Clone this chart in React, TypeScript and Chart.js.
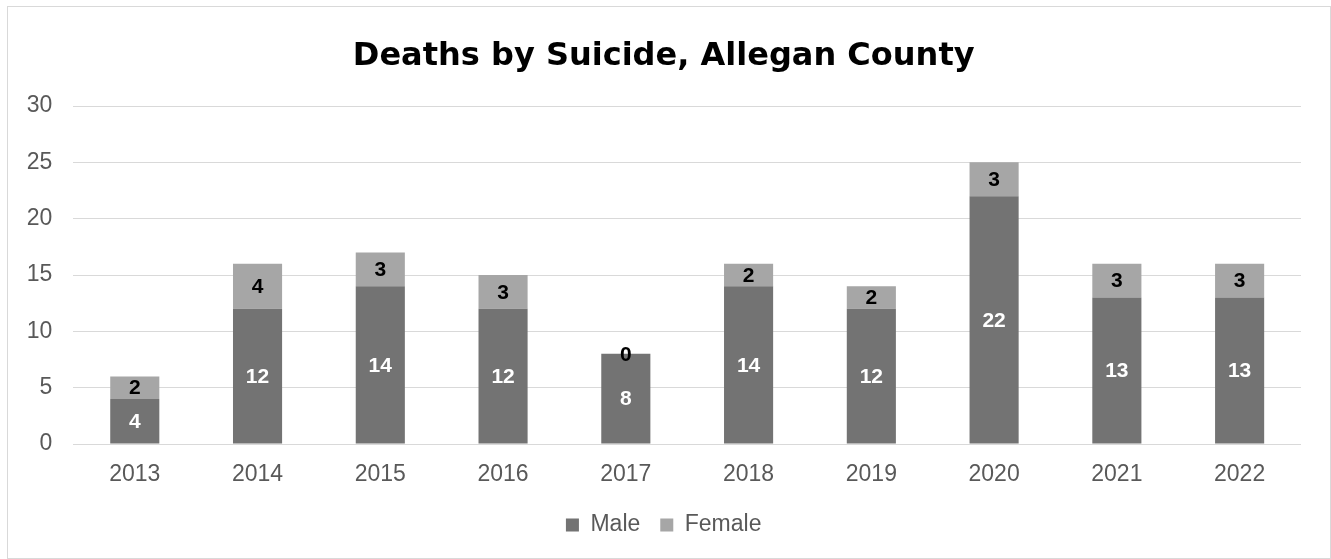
import React, { useEffect, useRef } from "react";
import { Chart, registerables } from "chart.js";

Chart.register(...registerables);

const years = ["2013", "2014", "2015", "2016", "2017", "2018", "2019", "2020", "2021", "2022"];
const maleDeaths = [4, 12, 14, 12, 8, 14, 12, 22, 13, 13];
const femaleDeaths = [2, 4, 3, 3, 0, 2, 2, 3, 3, 3];
const seriesNames = ["Male", "Female"];
const yMin = 0;
const yMax = 30;
const yStep = 5;
const titleText = "Deaths by Suicide, Allegan County";

const labelColors = ["#ffffff", "#000000"];

const barLabelPlugin = {
  id: "barLabels",
  afterDatasetsDraw(chart: any) {
    const ctx = chart.ctx;
    chart.data.datasets.forEach((ds: any, i: number) => {
      const meta = chart.getDatasetMeta(i);
      if (meta.hidden) return;
      meta.data.forEach((bar: any, j: number) => {
        const v = ds.data[j];
        const { x, y, base } = bar.getProps(["x", "y", "base"], true);
        const cy = (y + base) / 2;
        ctx.save();
        ctx.font = 'bold 21px "Liberation Sans", Arial, sans-serif';
        ctx.fillStyle = labelColors[i];
        ctx.textAlign = "center";
        ctx.textBaseline = "middle";
        ctx.fillText(String(v), x, cy + 1);
        ctx.restore();
      });
    });
  },
};

export default function App() {
  const canvasRef = useRef<HTMLCanvasElement | null>(null);

  useEffect(() => {
    if (!canvasRef.current) return;
    const chart = new Chart(canvasRef.current, {
      type: "bar",
      data: {
        labels: years,
        datasets: [
          {
            label: seriesNames[0],
            data: maleDeaths,
            backgroundColor: "#737373",
            barPercentage: 0.4,
            categoryPercentage: 1,
          },
          {
            label: seriesNames[1],
            data: femaleDeaths,
            backgroundColor: "#a6a6a6",
            barPercentage: 0.4,
            categoryPercentage: 1,
          },
        ],
      },
      options: {
        responsive: false,
        animation: false,
        layout: { padding: { left: 18.4, right: 29, top: 0, bottom: 11.5 } },
        plugins: {
          title: {
            display: true,
            text: titleText,
            color: "#000000",
            font: { family: '"DejaVu Sans", sans-serif', size: 32, weight: "bold", lineHeight: 1.2 },
            padding: { top: 30.3, bottom: 30.3 },
          },
          legend: {
            display: true,
            position: "bottom",
            labels: {
              boxWidth: 13,
              boxHeight: 13,
              padding: 20,
              color: "#595959",
              font: { family: '"Liberation Sans", Arial, sans-serif', size: 23 },
            },
          },
          tooltip: { enabled: false },
        },
        scales: {
          x: {
            stacked: true,
            grid: { display: false, drawTicks: false },
            border: { display: false },
            ticks: {
              color: "#595959",
              padding: 16.5,
              font: { family: '"Liberation Sans", Arial, sans-serif', size: 23 },
            },
            afterFit: (scale: any) => {
              scale.height = 49.5;
            },
          },
          y: {
            stacked: true,
            min: yMin,
            max: yMax,
            grid: { color: "#d9d9d9", lineWidth: 1, drawTicks: false },
            border: { display: false },
            ticks: {
              stepSize: yStep,
              color: "#595959",
              padding: 21,
              font: { family: '"Liberation Sans", Arial, sans-serif', size: 23 },
            },
            afterFit: (scale: any) => {
              scale.width = 47;
            },
          },
        },
      },
      plugins: [barLabelPlugin],
    });
    return () => chart.destroy();
  }, []);

  return (
    <div
      style={{
        position: "absolute",
        left: 7,
        top: 6,
        width: 1324,
        height: 553,
        border: "1px solid #d9d9d9",
        boxSizing: "border-box",
        background: "#ffffff",
      }}
    >
      <canvas ref={canvasRef} width={1322} height={551} style={{ display: "block" }} />
    </div>
  );
}
